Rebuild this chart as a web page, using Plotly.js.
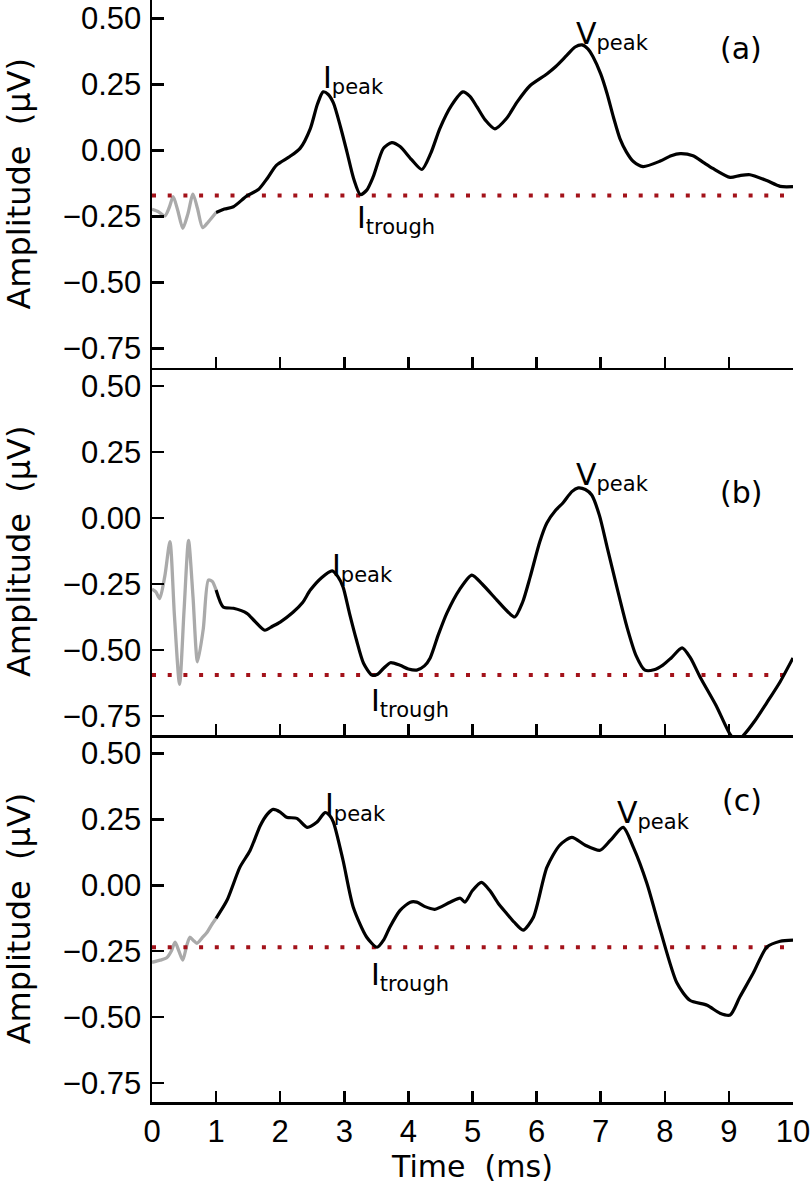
<!DOCTYPE html>
<html>
<head>
<meta charset="utf-8">
<script src="https://cdn.plot.ly/plotly-3.0.1.min.js"></script>
<style>
  body { margin: 0; padding: 0; background: #fff; }
  #fig { width: 810px; height: 1185px; }
</style>
</head>
<body>
<div id="fig"></div>
<script>
"use strict";

// ---- panel (a) ----
// grey = prestimulus part (0-1 ms), black = response
const tGreyA = [0, 0.1, 0.2, 0.27, 0.33, 0.4, 0.48, 0.56, 0.64, 0.71, 0.79, 0.88, 1.0];
const vGreyA = [-0.223, -0.232, -0.248, -0.215, -0.175, -0.225, -0.295, -0.24, -0.165, -0.22, -0.292, -0.27, -0.235];
const tA = [1.0, 1.13, 1.27, 1.48, 1.66, 1.8, 1.94, 2.15, 2.31, 2.47, 2.58, 2.67, 2.75, 2.83, 2.94,
            3.04, 3.15, 3.25, 3.35, 3.45, 3.61, 3.74, 3.87, 4.05, 4.21, 4.35, 4.49, 4.67, 4.85, 4.96,
            5.07, 5.2, 5.35, 5.53, 5.7, 5.9, 6.16, 6.3, 6.47, 6.6, 6.71, 6.8, 6.88, 7.0, 7.1,
            7.2, 7.3, 7.4, 7.51, 7.66, 7.93, 8.1, 8.24, 8.44, 8.6, 8.75, 9.02, 9.17, 9.33, 9.59,
            9.8, 10.0];
const vA = [-0.235, -0.222, -0.213, -0.172, -0.148, -0.105, -0.056, -0.023, 0.008, 0.083, 0.175, 0.222, 0.212, 0.180, 0.090,
            -0.004, -0.110, -0.167, -0.150, -0.100, 0.008, 0.030, 0.015, -0.035, -0.072, -0.010, 0.083, 0.170, 0.222, 0.205,
            0.165, 0.115, 0.082, 0.121, 0.185, 0.246, 0.290, 0.318, 0.360, 0.392, 0.400, 0.385, 0.355, 0.290, 0.215,
            0.125, 0.045, -0.005, -0.042, -0.061, -0.040, -0.020, -0.012, -0.020, -0.045, -0.068, -0.102, -0.095, -0.092, -0.114,
            -0.136, -0.137];
const troughA = -0.170;

// ---- panel (b) ----
const tGreyB = [0, 0.06, 0.12, 0.2, 0.28, 0.35, 0.43, 0.5, 0.57, 0.64, 0.71, 0.8, 0.88, 0.94, 1.0];
const vGreyB = [-0.269, -0.28, -0.305, -0.22, -0.09, -0.37, -0.63, -0.35, -0.085, -0.30, -0.545, -0.42, -0.235, -0.24, -0.273];
const tB = [1.0, 1.11, 1.27, 1.48, 1.6, 1.76, 1.88, 2.0, 2.2, 2.35, 2.47, 2.65, 2.81, 2.9, 2.98,
            3.08, 3.19, 3.3, 3.43, 3.52, 3.61, 3.72, 3.87, 4.0, 4.13, 4.25, 4.34, 4.47, 4.6, 4.8,
            4.99, 5.15, 5.38, 5.55, 5.66, 5.78, 5.9, 6.05, 6.16, 6.3, 6.41, 6.55, 6.65, 6.76, 6.86,
            6.98, 7.1, 7.25, 7.41, 7.55, 7.69, 7.83, 7.97, 8.1, 8.27, 8.4, 8.55, 8.8, 9.02, 9.12,
            9.22, 9.4, 9.59, 9.8, 10.0];
const vB = [-0.273, -0.337, -0.342, -0.361, -0.39, -0.425, -0.41, -0.394, -0.357, -0.32, -0.273, -0.225, -0.200, -0.222, -0.261,
            -0.36, -0.462, -0.55, -0.595, -0.592, -0.570, -0.548, -0.558, -0.572, -0.576, -0.56, -0.530, -0.44, -0.36, -0.27,
            -0.216, -0.25, -0.311, -0.355, -0.375, -0.32, -0.223, -0.09, -0.019, 0.03, 0.057, 0.10, 0.114, 0.108, 0.087,
            0.01, -0.110, -0.26, -0.413, -0.52, -0.576, -0.575, -0.557, -0.53, -0.492, -0.53, -0.602, -0.71, -0.82, -0.845,
            -0.825, -0.77, -0.700, -0.62, -0.530];
const troughB = -0.595;

// ---- panel (c) ----
const tGreyC = [0, 0.13, 0.23, 0.3, 0.36, 0.42, 0.48, 0.54, 0.59, 0.65, 0.70, 0.78, 0.86, 0.93, 1.0];
const vGreyC = [-0.292, -0.284, -0.275, -0.25, -0.216, -0.25, -0.284, -0.23, -0.197, -0.21, -0.220, -0.20, -0.178, -0.15, -0.125];
const tC = [1.0, 1.17, 1.37, 1.53, 1.69, 1.8, 1.89, 2.0, 2.10, 2.26, 2.42, 2.57, 2.70, 2.77, 2.83,
            2.98, 3.14, 3.35, 3.51, 3.62, 3.71, 3.87, 4.03, 4.13, 4.25, 4.41, 4.65, 4.81, 4.88, 5.0,
            5.14, 5.27, 5.40, 5.53, 5.65, 5.79, 5.95, 6.16, 6.36, 6.55, 6.76, 6.99, 7.15, 7.35, 7.51,
            7.72, 7.93, 8.19, 8.39, 8.66, 8.86, 9.02, 9.17, 9.38, 9.59, 9.8, 10.0];
const vC = [-0.125, -0.057, 0.068, 0.132, 0.227, 0.270, 0.288, 0.278, 0.258, 0.254, 0.220, 0.239, 0.276, 0.265, 0.240,
            0.095, -0.083, -0.197, -0.235, -0.205, -0.159, -0.095, -0.064, -0.064, -0.08, -0.091, -0.064, -0.049, -0.064, -0.02,
            0.011, -0.02, -0.068, -0.106, -0.14, -0.170, -0.121, 0.068, 0.152, 0.182, 0.152, 0.133, 0.170, 0.220, 0.144,
            0.008, -0.170, -0.371, -0.436, -0.455, -0.485, -0.492, -0.424, -0.333, -0.235, -0.212, -0.208];
const troughC = -0.235;

const xTicks = [0, 1, 2, 3, 4, 5, 6, 7, 8, 9, 10];
const yTicks = [0.5, 0.25, 0, -0.25, -0.5, -0.75];
const yTitle = "Amplitude \u00a0(\u03bcV)";
const xTitle = "Time \u00a0(ms)";
const panelNames = ["(a)", "(b)", "(c)"];

// ------------------------------------------------------------
const tickFont = {family: "Liberation Sans, Arial, sans-serif", size: 31, color: "#000"};
const textFont = {family: "DejaVu Sans, sans-serif", size: 30, color: "#000"};
const redDot = "#a3121a";

let traces = [];

function addPanel(xa, ya, tg, vg, t, v, base) {
  // grey prestimulus piece
  traces.push({x: tg, y: vg, xaxis: xa, yaxis: ya, type: "scatter", mode: "lines",
               line: {color: "#aaaaaa", width: 3.3, shape: "spline", smoothing: 0.7},
               hoverinfo: "skip"});
  // trough level (dotted)
  traces.push({x: [xTicks[0], xTicks[xTicks.length - 1]], y: [base, base],
               xaxis: xa, yaxis: ya, type: "scatter", mode: "lines",
               line: {color: redDot, width: 4, dash: "4px,11.7px"}});
  // response
  traces.push({x: t, y: v, xaxis: xa, yaxis: ya, type: "scatter", mode: "lines",
               line: {color: "#000", width: 3.2, shape: "spline", smoothing: 0.7}});
}

// panel (a) on x3/y3 (top), (b) on x2/y2, (c) on x/y (bottom)
addPanel("x3", "y3", tGreyA, vGreyA, tA, vA, troughA);
addPanel("x2", "y2", tGreyB, vGreyB, tB, vB, troughB);
addPanel("x", "y", tGreyC, vGreyC, tC, vC, troughC);

function xAxis(anchor, labels) {
  let ax = {anchor: anchor, range: [0, 10], tickvals: xTicks, ticktext: xTicks.map(String),
            ticks: "inside", ticklen: 11, tickwidth: 2.5, tickcolor: "#000",
            showline: true, linewidth: 2.5, linecolor: "#000", mirror: false,
            showgrid: false, zeroline: false, showticklabels: labels, tickfont: tickFont,
            ticklabeloverflow: "allow"};
  if (labels) ax.title = {text: xTitle, font: textFont, standoff: 8};
  return ax;
}

function yAxis(anchor, dom) {
  return {anchor: anchor, domain: dom, range: [-0.822, 0.57], tickvals: yTicks,
          tickformat: ".2f", ticks: "inside", ticklen: 12, tickwidth: 2.5, tickcolor: "#000",
          showline: true, linewidth: 2.5, linecolor: "#000",
          showgrid: false, zeroline: false, tickfont: tickFont, ticklabelstandoff: 2,
          title: {text: yTitle, font: {family: textFont.family, size: 32, color: "#000"}, standoff: 26}};
}

let annos = [];
function label(xr, yr, x, y, txt, xanchor) {
  annos.push({xref: xr, yref: yr, x: x, y: y, text: txt, showarrow: false,
              xanchor: xanchor, yanchor: "middle", font: textFont});
}

// peak / trough labels
label("x3", "y3", 2.63, 0.27, "I<sub>peak</sub>", "left");
label("x3", "y3", 3.17, -0.262, "I<sub>trough</sub>", "left");
label("x3", "y3", 6.59, 0.437, "V<sub>peak</sub>", "left");
label("x3", "y3", 9.19, 0.386, panelNames[0], "center");

label("x2", "y2", 2.78, -0.188, "I<sub>peak</sub>", "left");
label("x2", "y2", 3.39, -0.698, "I<sub>trough</sub>", "left");
label("x2", "y2", 6.59, 0.156, "V<sub>peak</sub>", "left");
label("x2", "y2", 9.19, 0.095, panelNames[1], "center");

label("x", "y", 2.67, 0.30, "I<sub>peak</sub>", "left");
label("x", "y", 3.39, -0.346, "I<sub>trough</sub>", "left");
label("x", "y", 7.23, 0.27, "V<sub>peak</sub>", "left");
label("x", "y", 9.2, 0.322, panelNames[2], "center");

const layout = {
  width: 810, height: 1185,
  margin: {l: 152, r: 17, t: 0, b: 83},
  paper_bgcolor: "#fff", plot_bgcolor: "#fff",
  showlegend: false,
  xaxis: xAxis("y", true),
  xaxis2: xAxis("y2", false),
  xaxis3: xAxis("y3", false),
  yaxis: yAxis("x", [0, 0.333]),
  yaxis2: yAxis("x2", [0.333, 0.6665]),
  yaxis3: yAxis("x3", [0.6665, 1]),
  annotations: annos
};

Plotly.newPlot("fig", traces, layout, {staticPlot: true});
</script>
</body>
</html>
